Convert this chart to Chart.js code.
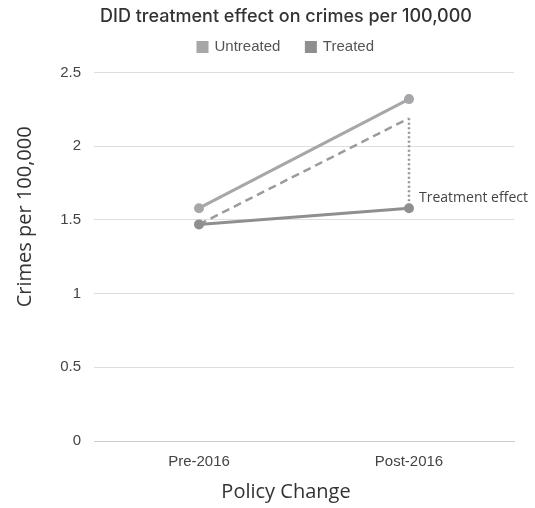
<!DOCTYPE html>
<html>
<head>
<meta charset="utf-8">
<script src="https://cdn.jsdelivr.net/npm/chart.js@4"></script>
<style>
  html, body { margin: 0; padding: 0; background: #fff; }
  #wrap { width: 535px; height: 508px; }
</style>
</head>
<body>
<div id="wrap"><canvas id="didChart"></canvas></div>
<script>
const periods = ['Pre-2016', 'Post-2016'];
const untreated = [1.58, 2.32];
const treated = [1.47, 1.58];
const counterfactual = [1.47, 2.19];
const effectTop = 2.19;
const effectBottom = 1.58;
const effectLabel = 'Treatment effect';
const effectLabelValue = 1.65;
const xTitle = 'Policy Change';
const yTitle = 'Crimes per 100,000';

// extra room between the legend and the plot
const legendGap = {
    id: 'legendGap',
    beforeInit(chart) {
        const fit = chart.legend.fit;
        chart.legend.fit = function () {
            fit.call(this);
            this.height += 8;
        };
    }
};

// axis titles and the treatment effect note
const annotations = {
    id: 'annotations',
    afterDatasetsDraw(chart) {
        const { ctx, chartArea, scales: { x, y } } = chart;
        ctx.save();
        ctx.font = '14px "Open Sans"';
        ctx.fillStyle = '#444';
        ctx.textBaseline = 'middle';
        ctx.fillText(effectLabel, x.getPixelForValue(1) + 10, y.getPixelForValue(effectLabelValue));

        ctx.font = '20px "Open Sans"';
        ctx.fillStyle = '#333';
        ctx.textAlign = 'center';
        ctx.fillText(xTitle, (chart.legend.left + chart.legend.right) / 2, chart.height - 16);

        ctx.translate(25, (chartArea.top + chartArea.bottom) / 2 - 40);
        ctx.rotate(-Math.PI / 2);
        ctx.fillText(yTitle, 0, 0);
        ctx.restore();
    }
};

new Chart(document.getElementById('didChart').getContext('2d'), {
    type: 'line',
    data: {
        labels: periods,
        datasets: [{
            label: 'Untreated',
            data: untreated,
            borderColor: '#a7a7a9',
            backgroundColor: '#a7a7a9',
            borderWidth: 3,
            pointRadius: 3.5,
            pointBackgroundColor: '#a7a7a9'
        }, {
            label: 'Treated',
            data: treated,
            borderColor: '#8f8f91',
            backgroundColor: '#8f8f91',
            borderWidth: 3,
            pointRadius: 3.5,
            pointBackgroundColor: '#8f8f91'
        }, {
            label: 'Counterfactual',
            data: counterfactual,
            borderColor: '#9b9b9d',
            borderWidth: 2.5,
            borderDash: [8, 5],
            pointRadius: 0
        }, {
            label: 'Effect',
            data: [{ x: periods[1], y: effectTop }, { x: periods[1], y: effectBottom }],
            borderColor: '#959597',
            borderWidth: 2.5,
            borderDash: [2, 2.5],
            pointRadius: 0
        }]
    },
    options: {
        responsive: true,
        maintainAspectRatio: false,
        animation: false,
        layout: { padding: { left: 58, right: 21, top: 4, bottom: 33 } },
        plugins: {
            title: {
                display: true,
                text: 'DID treatment effect on crimes per 100,000',
                color: '#333',
                font: { family: 'Inter', size: 18, weight: '500' },
                padding: { top: 2, bottom: -14 }
            },
            legend: {
                labels: {
                    filter: item => item.datasetIndex < 2,
                    usePointStyle: true,
                    pointStyle: 'rect',
                    boxWidth: 9,
                    boxHeight: 9,
                    padding: 26,
                    color: '#555',
                    font: { family: 'Liberation Sans', size: 15 }
                }
            },
            tooltip: { enabled: false }
        },
        scales: {
            x: {
                offset: true,
                grid: { display: false },
                border: { color: '#ccc' },
                ticks: { color: '#444', font: { family: 'Liberation Sans', size: 15 }, padding: 4 }
            },
            y: {
                min: 0,
                max: 2.5,
                afterFit: scale => { scale.width = 36; },
                ticks: {
                    stepSize: 0.5,
                    color: '#444',
                    font: { family: 'Liberation Sans', size: 15 },
                    padding: 13,
                    callback: v => String(v)
                },
                grid: { color: '#dedede', drawTicks: false },
                border: { display: false }
            }
        }
    },
    plugins: [legendGap, annotations]
});
</script>
</body>
</html>
